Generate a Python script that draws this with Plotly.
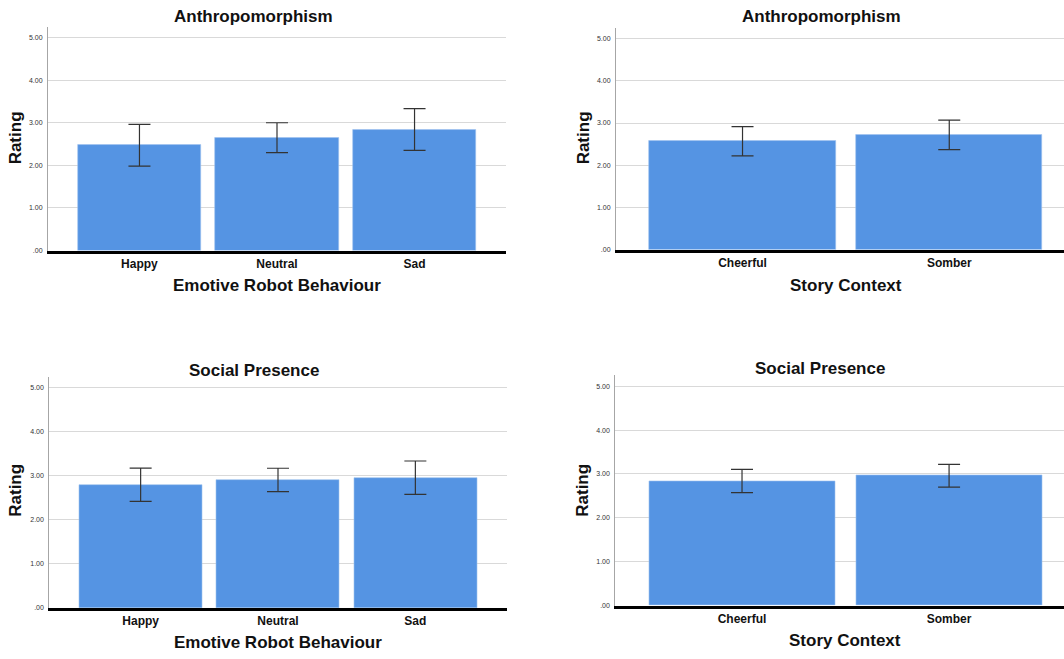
import plotly.graph_objects as go

W, H = 1064, 659

behaviour_cats = ["Happy", "Neutral", "Sad"]
context_cats = ["Cheerful", "Somber"]

anthro_behaviour = [2.47, 2.65, 2.84]
anthro_behaviour_err = [0.49, 0.35, 0.49]
anthro_context = [2.57, 2.72]
anthro_context_err = [0.345, 0.35]

social_behaviour = [2.80, 2.91, 2.96]
social_behaviour_err = [0.38, 0.265, 0.38]
social_context = [2.84, 2.96]
social_context_err = [0.265, 0.26]

y_ticks = [0, 1, 2, 3, 4, 5]
y_tick_labels = [".00", "1.00", "2.00", "3.00", "4.00", "5.00"]

BAR = "#5594e3"
FONT = "Liberation Sans, Arial, sans-serif"

# panel geometry in pixels
panels = [
    dict(x0=48, x1=506, yt=27, yb=251.7, xr=[-0.665, 2.665], cats=behaviour_cats,
         vals=anthro_behaviour, err=anthro_behaviour_err, title="Anthropomorphism",
         tx=253, ty=17, xt="Emotive Robot Behaviour", xtx=277, xty=287, ytx=15, yty=139),
    dict(x0=616, x1=1064, yt=28, yb=251, xr=[-0.612, 1.555], cats=context_cats,
         vals=anthro_context, err=anthro_context_err, title="Anthropomorphism",
         tx=821, ty=17, xt="Story Context", xtx=846, xty=287, ytx=583, yty=139),
    dict(x0=49.3, x1=506.7, yt=378.7, yb=610.7, xr=[-0.665, 2.665], cats=behaviour_cats,
         vals=social_behaviour, err=social_behaviour_err, title="Social Presence",
         tx=254, ty=372, xt="Emotive Robot Behaviour", xtx=278, xty=645, ytx=16, yty=493),
    dict(x0=615.3, x1=1064, yt=377, yb=608.3, xr=[-0.612, 1.555], cats=context_cats,
         vals=social_context, err=social_context_err, title="Social Presence",
         tx=820, ty=370, xt="Story Context", xtx=845, xty=643, ytx=583, yty=493),
]

fig = go.Figure()
annotations = []
layout = {}
for i, p in enumerate(panels, start=1):
    xa = "x" if i == 1 else f"x{i}"
    ya = "y" if i == 1 else f"y{i}"
    fig.add_trace(go.Bar(
        x=list(range(len(p["cats"]))), y=p["vals"], xaxis=xa, yaxis=ya,
        width=0.895 if len(p["cats"]) == 3 else 0.9,
        marker=dict(color=BAR, line=dict(color="#9fc2ee", width=0.6)),
        error_y=dict(type="data", array=p["err"], visible=True, color="#333333",
                     thickness=1.2, width=11),
        showlegend=False, hoverinfo="skip",
    ))
    layout[f"xaxis{'' if i == 1 else i}"] = dict(
        domain=[p["x0"] / W, p["x1"] / W], range=p["xr"], anchor=ya,
        tickmode="array", tickvals=list(range(len(p["cats"]))), ticktext=p["cats"],
        showline=True, linecolor="black", linewidth=2.5, showgrid=False, zeroline=False,
        ticks="", tickfont=dict(family=FONT, size=12, color="#111111", weight="bold"),
        fixedrange=True,
    )
    layout[f"yaxis{'' if i == 1 else i}"] = dict(
        domain=[1 - p["yb"] / H, 1 - p["yt"] / H], range=[0, 5.25], anchor=xa,
        tickmode="array", tickvals=y_ticks, ticktext=y_tick_labels,
        showline=True, linecolor="#a6a6a6", linewidth=1, showgrid=True,
        gridcolor="#d9d9d9", gridwidth=1, zeroline=False, ticks="",
        tickfont=dict(family=FONT, size=7, color="#333333"), ticklabelstandoff=3,
        fixedrange=True,
    )
    annotations.append(dict(text="<b>" + p["title"] + "</b>", x=p["tx"] / W, y=1 - p["ty"] / H,
                            xref="paper", yref="paper", showarrow=False,
                            font=dict(family=FONT, size=17, color="#111111"),
                            xanchor="center", yanchor="middle"))
    annotations.append(dict(text="<b>" + p["xt"] + "</b>", x=p["xtx"] / W, y=1 - p["xty"] / H,
                            xref="paper", yref="paper", showarrow=False,
                            font=dict(family=FONT, size=17, color="#111111"),
                            xanchor="center", yanchor="middle"))
    annotations.append(dict(text="<b>Rating</b>", x=p["ytx"] / W, y=1 - p["yty"] / H,
                            xref="paper", yref="paper", showarrow=False, textangle=-90,
                            font=dict(family=FONT, size=17, color="#111111"),
                            xanchor="center", yanchor="middle"))

fig.update_layout(
    width=W, height=H, margin=dict(l=0, r=0, t=0, b=0),
    paper_bgcolor="white", plot_bgcolor="white",
    annotations=annotations, bargap=0, **layout,
)

fig.write_html("out.html")
